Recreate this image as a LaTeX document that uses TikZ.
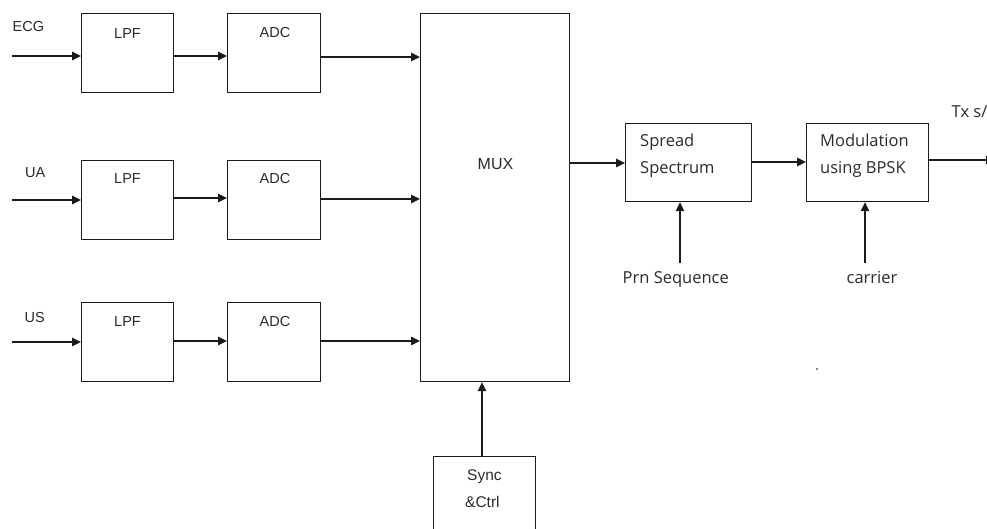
\documentclass[tikz,border=0pt]{standalone}
\usepackage{fontspec}
\setmainfont{Liberation Sans}
\newfontfamily\rfont{Open Sans}
\usetikzlibrary{arrows.meta}
\definecolor{ln}{HTML}{1A1A1A}
\definecolor{tx}{HTML}{2A2A2A}
\begin{document}
\begin{tikzpicture}[x=1pt,y=-1pt,
  blk/.style={draw=ln, line width=1.2pt, inner sep=0pt, anchor=north west},
  arr/.style={draw=ln, line width=1.3pt, -{Triangle[length=9pt,width=8.5pt]}},
  lt/.style={anchor=base west, inner sep=0pt, text=tx, font=\fontsize{14.5}{16}\selectfont},
  ct/.style={anchor=base, inner sep=0pt, text=tx, font=\fontsize{14.5}{16}\selectfont},
  rt/.style={anchor=base west, inner sep=0pt, text=tx, font=\rfont\fontsize{16.5}{18}\selectfont}]
\useasboundingbox (0,0) rectangle (987,529);
\clip (0,0) rectangle (987,529);
% boxes
\node[blk, minimum width=92pt, minimum height=79pt] (lpf1) at (81,13) {};
\node[blk, minimum width=93pt, minimum height=79pt] (adc1) at (227,13) {};
\node[blk, minimum width=92pt, minimum height=79pt] (lpf2) at (81,160) {};
\node[blk, minimum width=93pt, minimum height=79pt] (adc2) at (227,160) {};
\node[blk, minimum width=92pt, minimum height=79pt] (lpf3) at (81,302) {};
\node[blk, minimum width=93pt, minimum height=79pt] (adc3) at (227,302) {};
\node[blk, minimum width=149pt, minimum height=368pt] (mux) at (420,13) {};
\node[blk, minimum width=102pt, minimum height=90pt] (sync) at (433,456) {};
\node[blk, minimum width=126pt, minimum height=78pt] (ss) at (625,123) {};
\node[blk, minimum width=122pt, minimum height=78pt] (mod) at (806,123) {};
% box texts
\node[ct] (t1) at (127.5,38.3) {LPF};
\node[ct] (t2) at (275,37.7) {ADC};
\node[ct] (t3) at (127.5,184) {LPF};
\node[ct] (t4) at (275,184) {ADC};
\node[ct] (t5) at (127.5,326.7) {LPF};
\node[ct] (t6) at (275,326.7) {ADC};
\node[ct, font=\fontsize{16}{18}\selectfont] (tm) at (495.5,169.3) {MUX};
\node[lt, font=\fontsize{15.5}{17}\selectfont] (ts1) at (467,480) {Sync};
\node[lt, font=\fontsize{15.5}{17}\selectfont] (ts2) at (465,507) {\&Ctrl};
\node[rt] (tss1) at (640,146.7) {Spread};
\node[rt] (tss2) at (640,174) {Spectrum};
\node[rt] (tmo1) at (820,146.7) {Modulation};
\node[rt] (tmo2) at (820,174) {using BPSK};
% input labels
\node[lt] (lecg) at (12.5,31.5) {ECG};
\node[lt] (lua) at (25,178) {UA};
\node[lt] (lus) at (24.5,322.5) {US};
\node[rt] (lprn) at (622.5,283) {Prn Sequence};
\node[rt] (lcar) at (846.5,283) {carrier};
\node[rt] (ltx) at (951.5,118) {Tx s/};
% free ends
\coordinate (in1) at (12,56);
\coordinate (in2) at (12,200);
\coordinate (in3) at (12,342);
\coordinate (prn) at (680,263);
\coordinate (car) at (865,263);
\coordinate (out) at (995,160);
% connectors
\draw[arr] (in1) -- (in1 -| lpf1.west);
\draw[arr] (in2) -- (in2 -| lpf2.west);
\draw[arr] (in3) -- (in3 -| lpf3.west);
\draw[arr] (lpf1.east |- 0,56) -- (adc1.west |- 0,56);
\draw[arr] (lpf2.east |- 0,198) -- (adc2.west |- 0,198);
\draw[arr] (lpf3.east |- 0,341) -- (adc3.west |- 0,341);
\draw[arr] (adc1.east |- 0,57) -- (mux.west |- 0,57);
\draw[arr] (adc2.east |- 0,199) -- (mux.west |- 0,199);
\draw[arr] (adc3.east |- 0,341) -- (mux.west |- 0,341);
\draw[arr] (sync.north -| 482,0) -- (mux.south -| 482,0);
\draw[arr] (mux.east |- 0,163) -- (ss.west |- 0,163);
\draw[arr] (ss.east |- 0,162) -- (mod.west |- 0,162);
\draw[arr] (prn) -- (prn |- ss.south);
\draw[arr] (car) -- (car |- mod.south);
\draw[arr] (mod.east |- out) -- (out);
% stray dot
\fill[ln!70] (817,369) circle (1.1pt);
\end{tikzpicture}
\end{document}
